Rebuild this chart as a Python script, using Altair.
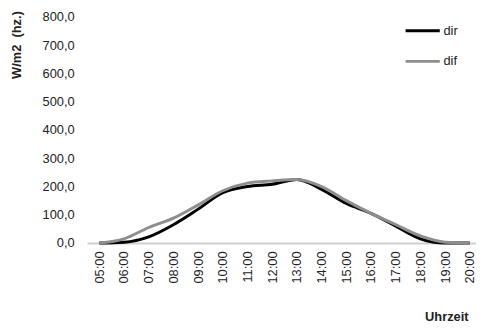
import altair as alt
import pandas as pd

times = ["05:00", "06:00", "07:00", "08:00", "09:00", "10:00", "11:00", "12:00",
         "13:00", "14:00", "15:00", "16:00", "17:00", "18:00", "19:00", "20:00"]
dir_vals = [0, 3, 22, 65, 120, 178, 200, 208, 225, 190, 140, 105, 60, 15, 0, 0]
dif_vals = [0, 15, 55, 88, 135, 185, 212, 220, 225, 200, 150, 105, 65, 25, 3, 0]
series = ["dir", "dif"]
colors = ["#000000", "#8e8e8e"]

rows = []
for t, a, b in zip(times, dir_vals, dif_vals):
    h = int(t.split(":")[0])
    rows.append({"h": h, "Zeit": t, "Serie": "dir", "val": a})
    rows.append({"h": h, "Zeit": t, "Serie": "dif", "val": b})
df = pd.DataFrame(rows)

hours = [int(t.split(":")[0]) for t in times]
FONT = "Liberation Sans"

chart = alt.Chart(df).mark_line(interpolate="monotone", strokeWidth=3).encode(
    x=alt.X("h:Q",
            scale=alt.Scale(domain=[4.5, 20.25], nice=False, zero=False),
            axis=alt.Axis(values=hours,
                          labelExpr="(datum.value < 10 ? '0' : '') + datum.value + ':00'",
                          labelAngle=270, labelPadding=8, ticks=False, grid=False,
                          domainColor="#d0d0d0", domainWidth=2,
                          labelFont=FONT, labelFontSize=13, labelColor="#222222",
                          title="Uhrzeit", titleFont=FONT, titleFontSize=13,
                          titleFontWeight="bold", titleColor="#222222",
                          titleX=386, titleY=74, titleAlign="right",
                          titleBaseline="middle", titleAnchor="end")),
    y=alt.Y("val:Q",
            scale=alt.Scale(domain=[0, 800], nice=False),
            axis=alt.Axis(values=[0, 100, 200, 300, 400, 500, 600, 700, 800],
                          labelExpr="replace(format(datum.value, '.1f'), '.', ',')",
                          ticks=False, domain=False, grid=False, labelPadding=13,
                          labelFont=FONT, labelFontSize=13, labelColor="#222222",
                          title="W/m2\u00a0\u00a0(hz.)", titleFont=FONT, titleFontSize=13,
                          titleFontWeight="bold", titleColor="#222222",
                          titleX=-71, titleY=28, titleAngle=270,
                          titleAlign="center", titleBaseline="middle")),
    color=alt.Color("Serie:N",
                    scale=alt.Scale(domain=series, range=colors),
                    sort=series,
                    legend=alt.Legend(title=None, orient="none", legendX=321, legendY=-5,
                                      symbolType="stroke", symbolSize=1200,
                                      symbolStrokeWidth=3, labelOffset=2,
                                      rowPadding=5,
                                      labelFont=FONT, labelFontSize=13,
                                      labelColor="#222222")),
).properties(
    width=394, height=229,
    autosize=alt.AutoSizeParams(type="none"),
    padding={"left": 80, "top": 7, "right": 0, "bottom": 85},
).configure_view(stroke=None)

chart.save("out.html", embed_options={"renderer": "svg", "actions": False})
